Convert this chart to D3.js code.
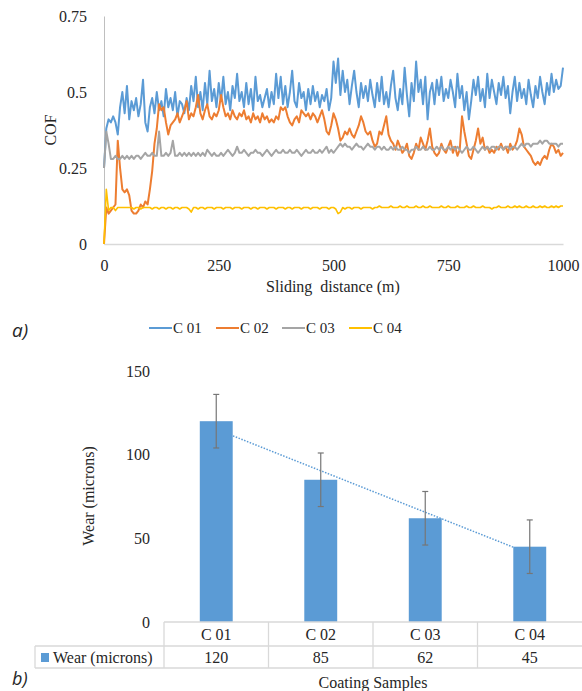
<!DOCTYPE html>
<html>
<head>
<meta charset="utf-8">
<script src="https://cdn.jsdelivr.net/npm/d3@7"></script>
<style>
body { margin: 0; background: #fff; }
text { font-family: "Liberation Serif", "Times New Roman", serif; fill: #262626; }
</style>
</head>
<body>
<div id="container"></div>
<script>

// ---- chart a) : friction coefficient vs sliding distance ----
var seriesNames = ["C 01", "C 02", "C 03", "C 04"];
var seriesColors = ["#5b9bd5", "#ed7d31", "#a5a5a5", "#ffc000"];
var distance = d3.range(0, 1001, 5);

var cofC01 = [
	0.25,0.38,0.41,0.40,0.42,0.40,0.36,0.45,0.50,0.43,
	0.52,0.41,0.47,0.44,0.48,0.42,0.46,0.54,0.40,0.37,
	0.45,0.48,0.43,0.50,0.44,0.47,0.42,0.51,0.45,0.48,
	0.44,0.50,0.42,0.47,0.46,0.43,0.48,0.44,0.52,0.47,
	0.55,0.45,0.50,0.44,0.53,0.46,0.57,0.47,0.51,0.45,
	0.53,0.47,0.55,0.46,0.50,0.44,0.52,0.48,0.56,0.47,
	0.50,0.45,0.53,0.46,0.51,0.44,0.55,0.47,0.49,0.45,
	0.48,0.51,0.45,0.50,0.46,0.56,0.48,0.55,0.46,0.52,
	0.45,0.50,0.57,0.47,0.45,0.53,0.48,0.50,0.44,0.51,
	0.46,0.52,0.47,0.50,0.45,0.49,0.47,0.51,0.44,0.48,
	0.60,0.53,0.61,0.49,0.57,0.50,0.54,0.46,0.52,0.57,
	0.50,0.45,0.53,0.48,0.52,0.47,0.54,0.49,0.45,0.53,
	0.47,0.55,0.46,0.50,0.45,0.52,0.57,0.48,0.44,0.51,
	0.46,0.58,0.49,0.42,0.53,0.47,0.60,0.50,0.54,0.46,
	0.55,0.41,0.50,0.53,0.46,0.54,0.49,0.55,0.47,0.51,
	0.48,0.54,0.50,0.45,0.56,0.48,0.52,0.44,0.50,0.41,
	0.47,0.54,0.49,0.55,0.47,0.51,0.45,0.56,0.48,0.54,
	0.50,0.46,0.53,0.49,0.55,0.48,0.52,0.43,0.50,0.55,
	0.47,0.53,0.48,0.51,0.46,0.54,0.49,0.45,0.52,0.48,
	0.55,0.50,0.46,0.53,0.49,0.56,0.50,0.54,0.51,0.52,
	0.58];

var cofC02 = [
	0.00,0.12,0.10,0.11,0.12,0.13,0.34,0.25,0.18,0.17,
	0.18,0.16,0.11,0.10,0.10,0.11,0.13,0.12,0.14,0.13,
	0.18,0.24,0.33,0.38,0.46,0.44,0.45,0.40,0.36,0.39,
	0.40,0.41,0.43,0.40,0.42,0.44,0.47,0.41,0.43,0.42,
	0.45,0.49,0.43,0.41,0.44,0.46,0.42,0.41,0.43,0.42,
	0.44,0.49,0.45,0.42,0.43,0.41,0.44,0.42,0.41,0.43,
	0.42,0.44,0.41,0.42,0.40,0.43,0.41,0.42,0.40,0.43,
	0.41,0.42,0.40,0.41,0.40,0.42,0.41,0.45,0.44,0.45,
	0.42,0.40,0.39,0.41,0.42,0.40,0.44,0.43,0.42,0.43,
	0.41,0.43,0.42,0.40,0.42,0.44,0.41,0.37,0.36,0.39,
	0.43,0.41,0.38,0.34,0.35,0.37,0.36,0.38,0.36,0.35,
	0.37,0.39,0.42,0.40,0.37,0.36,0.37,0.34,0.32,0.33,
	0.37,0.36,0.39,0.42,0.36,0.34,0.33,0.31,0.34,0.32,
	0.30,0.31,0.33,0.29,0.28,0.30,0.33,0.31,0.35,0.33,
	0.31,0.34,0.38,0.32,0.30,0.29,0.30,0.33,0.31,0.30,
	0.32,0.34,0.30,0.32,0.29,0.31,0.42,0.37,0.33,0.29,
	0.28,0.31,0.34,0.38,0.33,0.35,0.31,0.32,0.30,0.31,
	0.30,0.32,0.31,0.33,0.31,0.32,0.30,0.33,0.31,0.32,
	0.34,0.38,0.36,0.32,0.31,0.30,0.29,0.27,0.26,0.27,
	0.26,0.28,0.29,0.28,0.31,0.33,0.32,0.30,0.31,0.29,
	0.30];

var cofC03 = [
	0.25,0.37,0.33,0.28,0.28,0.29,0.28,0.28,0.29,0.28,
	0.29,0.28,0.29,0.28,0.29,0.29,0.28,0.29,0.30,0.29,
	0.29,0.30,0.29,0.29,0.37,0.29,0.29,0.30,0.29,0.30,
	0.34,0.29,0.29,0.30,0.29,0.30,0.29,0.30,0.29,0.30,
	0.29,0.30,0.29,0.30,0.29,0.31,0.30,0.29,0.30,0.29,
	0.29,0.30,0.29,0.30,0.31,0.30,0.29,0.30,0.32,0.30,
	0.30,0.31,0.30,0.29,0.30,0.30,0.31,0.30,0.30,0.29,
	0.30,0.31,0.30,0.29,0.30,0.31,0.30,0.30,0.31,0.30,
	0.30,0.31,0.30,0.30,0.31,0.30,0.29,0.30,0.31,0.30,
	0.30,0.31,0.30,0.30,0.31,0.30,0.31,0.32,0.30,0.31,
	0.30,0.31,0.32,0.33,0.32,0.33,0.32,0.32,0.31,0.32,
	0.33,0.32,0.32,0.31,0.32,0.33,0.32,0.32,0.31,0.32,
	0.32,0.31,0.32,0.31,0.31,0.32,0.31,0.32,0.31,0.31,
	0.32,0.31,0.31,0.30,0.31,0.31,0.32,0.31,0.31,0.32,
	0.31,0.31,0.32,0.31,0.31,0.32,0.31,0.32,0.31,0.31,
	0.32,0.31,0.32,0.31,0.32,0.31,0.30,0.31,0.32,0.31,
	0.31,0.32,0.31,0.30,0.31,0.32,0.31,0.32,0.31,0.32,
	0.32,0.31,0.32,0.32,0.31,0.32,0.32,0.31,0.32,0.32,
	0.31,0.32,0.33,0.32,0.33,0.33,0.32,0.33,0.33,0.33,
	0.34,0.33,0.34,0.34,0.33,0.33,0.33,0.33,0.32,0.33,
	0.33];

var cofC04 = [
	0.00,0.18,0.11,0.12,0.12,0.11,0.12,0.12,0.12,0.12,
	0.12,0.12,0.12,0.115,0.12,0.12,0.115,0.12,0.12,0.12,
	0.12,0.115,0.12,0.12,0.115,0.12,0.12,0.115,0.12,0.12,
	0.115,0.12,0.12,0.115,0.12,0.12,0.12,0.115,0.105,0.12,
	0.12,0.115,0.12,0.12,0.115,0.12,0.12,0.12,0.115,0.12,
	0.12,0.12,0.115,0.12,0.12,0.12,0.115,0.12,0.12,0.12,
	0.115,0.12,0.12,0.12,0.115,0.12,0.12,0.115,0.12,0.12,
	0.12,0.115,0.12,0.12,0.12,0.115,0.12,0.12,0.12,0.115,
	0.12,0.12,0.115,0.12,0.12,0.12,0.115,0.12,0.12,0.12,
	0.115,0.12,0.12,0.12,0.115,0.12,0.12,0.12,0.115,0.12,
	0.12,0.115,0.10,0.105,0.12,0.115,0.12,0.12,0.115,0.12,
	0.12,0.12,0.115,0.12,0.12,0.12,0.12,0.115,0.12,0.12,
	0.125,0.12,0.12,0.12,0.12,0.125,0.12,0.12,0.12,0.125,
	0.12,0.12,0.125,0.12,0.12,0.12,0.125,0.12,0.12,0.125,
	0.12,0.12,0.125,0.12,0.12,0.12,0.12,0.125,0.12,0.12,
	0.125,0.12,0.12,0.12,0.125,0.12,0.12,0.12,0.125,0.12,
	0.12,0.125,0.12,0.12,0.12,0.125,0.12,0.12,0.12,0.115,
	0.12,0.12,0.125,0.12,0.12,0.12,0.125,0.12,0.12,0.125,
	0.12,0.125,0.12,0.12,0.125,0.12,0.12,0.125,0.12,0.12,
	0.125,0.12,0.125,0.12,0.12,0.125,0.12,0.125,0.12,0.125,
	0.125];

var cofTicks = [0, 0.25, 0.5, 0.75];
var cofTickLabels = ["0", "0.25", "0.5", "0.75"];
var distanceTicks = [0, 250, 500, 750, 1000];

// ---- chart b) : wear per coating ----
var samples = ["C 01", "C 02", "C 03", "C 04"];
var wear = [120, 85, 62, 45];
var wearError = [16, 16, 16, 16];
var wearTicks = [0, 50, 100, 150];


function styleAxisText(g) {
	g.attr("font-family", "Liberation Serif, Times New Roman, serif")
		.attr("font-size", 16);
	g.selectAll("text").attr("fill", "#262626");
};


function drawFriction(svg) {
	var x = d3.scaleLinear().domain([0, 1000]).range([104, 563]);
	var y = d3.scaleLinear().domain([0, 0.75]).range([244, 16]);

	var yAxis = svg.append("g")
		.attr("transform", "translate(104,0)")
		.call(d3.axisLeft(y).tickValues(cofTicks).tickSize(0).tickPadding(17)
			.tickFormat(function(d, i) { return cofTickLabels[i]; }));
	yAxis.select(".domain").attr("stroke", "#bfbfbf").attr("stroke-width", 1);
	styleAxisText(yAxis);

	var xAxis = svg.append("g")
		.attr("transform", "translate(0,244)")
		.call(d3.axisBottom(x).tickValues(distanceTicks).tickSize(0).tickPadding(16)
			.tickFormat(d3.format("d")));
	xAxis.select(".domain").attr("stroke", "#d9d9d9").attr("stroke-width", 1.5);
	styleAxisText(xAxis);

	var all = [cofC01, cofC02, cofC03, cofC04];
	var line = d3.line()
		.x(function(d, i) { return x(distance[i]); })
		.y(function(d) { return y(d); });

	for (var s = 0; s < all.length; s++) {
		svg.append("path")
			.datum(all[s])
			.attr("d", line)
			.attr("fill", "none")
			.attr("stroke", seriesColors[s])
			.attr("stroke-width", s == 3 ? 1.6 : 2)
			.attr("stroke-linejoin", "round");
	};

	svg.append("text")
		.attr("transform", "translate(50,130) rotate(-90)")
		.attr("text-anchor", "middle")
		.attr("dy", "0.35em")
		.style("font-size", "16px")
		.text("COF");

	svg.append("text")
		.attr("x", 333)
		.attr("y", 292)
		.attr("text-anchor", "middle")
		.style("font-size", "16px")
		.style("white-space", "pre")
		.text("Sliding  distance (m)");

	// legend
	var lx = [149, 216, 282, 349];
	var legend = svg.selectAll(".leg")
		.data(seriesNames)
		.enter()
		.append("g")
		.attr("transform", function(d, i) { return "translate(" + lx[i] + ",328)"; });
	legend.append("line")
		.attr("x1", 0).attr("x2", 23)
		.attr("stroke", function(d, i) { return seriesColors[i]; })
		.attr("stroke-width", 2);
	legend.append("text")
		.attr("x", 24)
		.attr("dy", "0.35em")
		.style("font-size", "15px")
		.text(function(d) { return d; });

	svg.append("text")
		.attr("x", 12).attr("y", 337)
		.style("font-family", "Open Sans")
		.style("font-style", "italic")
		.style("font-size", "19px")
		.text("a)");
};


function drawWear(svg) {
	var x = d3.scaleBand().domain(samples).range([164, 582]);
	var bx = d3.scaleBand().domain(samples).range([164, 582]).paddingInner(0.685).paddingOuter(0.3425);
	var y = d3.scaleLinear().domain([0, 150]).range([622, 371]);

	var yAxis = svg.append("g")
		.attr("transform", "translate(164,0)")
		.call(d3.axisLeft(y).tickValues(wearTicks).tickSize(0).tickPadding(14));
	yAxis.select(".domain").remove();
	styleAxisText(yAxis);

	// linear trendline (least squares over the four samples), behind the bars
	var n = wear.length;
	var mx = (n + 1) / 2, my = d3.mean(wear);
	var sxy = 0, sxx = 0;
	for (var i = 0; i < n; i++) {
		sxy += (i + 1 - mx) * (wear[i] - my);
		sxx += (i + 1 - mx) * (i + 1 - mx);
	};
	var slope = sxy / sxx;
	svg.append("line")
		.attr("x1", x(samples[0]) + x.bandwidth() / 2)
		.attr("x2", x(samples[n - 1]) + x.bandwidth() / 2)
		.attr("y1", y(my + slope * (1 - mx)))
		.attr("y2", y(my + slope * (n - mx)))
		.attr("stroke", "#5b9bd5")
		.attr("stroke-width", 1.5)
		.attr("stroke-dasharray", "1.5,1.5");

	svg.selectAll(".bar")
		.data(wear)
		.enter()
		.append("rect")
		.attr("x", function(d, i) { return bx(samples[i]); })
		.attr("width", bx.bandwidth())
		.attr("y", function(d) { return y(d); })
		.attr("height", function(d) { return y(0) - y(d); })
		.attr("fill", "#5b9bd5");

	// error bars
	var eg = svg.selectAll(".err")
		.data(wear)
		.enter()
		.append("g")
		.attr("stroke", "#767676")
		.attr("stroke-width", 1.2);
	eg.append("line")
		.attr("x1", function(d, i) { return x(samples[i]) + x.bandwidth() / 2; })
		.attr("x2", function(d, i) { return x(samples[i]) + x.bandwidth() / 2; })
		.attr("y1", function(d, i) { return y(d + wearError[i]); })
		.attr("y2", function(d, i) { return y(d - wearError[i]); });
	[1, -1].forEach(function(sg) {
		eg.append("line")
			.attr("x1", function(d, i) { return x(samples[i]) + x.bandwidth() / 2 - 3; })
			.attr("x2", function(d, i) { return x(samples[i]) + x.bandwidth() / 2 + 3; })
			.attr("y1", function(d, i) { return y(d + sg * wearError[i]); })
			.attr("y2", function(d, i) { return y(d + sg * wearError[i]); });
	});

	// data table under the axis
	var grid = "#d9d9d9";
	var t = svg.append("g").attr("stroke", grid).attr("stroke-width", 1.3);
	t.append("line").attr("x1", 164).attr("x2", 582).attr("y1", 622).attr("y2", 622);
	t.append("line").attr("x1", 35).attr("x2", 582).attr("y1", 646).attr("y2", 646);
	t.append("line").attr("x1", 35).attr("x2", 582).attr("y1", 668).attr("y2", 668);
	t.append("line").attr("x1", 35).attr("x2", 35).attr("y1", 646).attr("y2", 668);
	samples.forEach(function(s) {
		t.append("line").attr("x1", x(s)).attr("x2", x(s)).attr("y1", 622).attr("y2", 668);
	});

	svg.selectAll(".cat")
		.data(samples)
		.enter()
		.append("text")
		.attr("x", function(d) { return x(d) + x.bandwidth() / 2; })
		.attr("y", 634)
		.attr("dy", "0.35em")
		.attr("text-anchor", "middle")
		.style("font-size", "16px")
		.text(function(d) { return d; });

	svg.selectAll(".val")
		.data(wear)
		.enter()
		.append("text")
		.attr("x", function(d, i) { return x(samples[i]) + x.bandwidth() / 2; })
		.attr("y", 657)
		.attr("dy", "0.35em")
		.attr("text-anchor", "middle")
		.style("font-size", "16px")
		.text(function(d) { return d; });

	svg.append("rect")
		.attr("x", 41).attr("y", 653)
		.attr("width", 8).attr("height", 9)
		.attr("fill", "#5b9bd5");
	svg.append("text")
		.attr("x", 53).attr("y", 657)
		.attr("dy", "0.35em")
		.style("font-size", "16px")
		.text("Wear (microns)");

	svg.append("text")
		.attr("transform", "translate(88,496) rotate(-90)")
		.attr("text-anchor", "middle")
		.attr("dy", "0.35em")
		.style("font-size", "16px")
		.text("Wear (microns)");

	svg.append("text")
		.attr("x", 373).attr("y", 682)
		.attr("dy", "0.35em")
		.attr("text-anchor", "middle")
		.style("font-size", "16px")
		.text("Coating Samples");

	svg.append("text")
		.attr("x", 12).attr("y", 685)
		.style("font-family", "Open Sans")
		.style("font-style", "italic")
		.style("font-size", "18px")
		.text("b)");
};


function main() {
	var svg = d3.select("#container")
		.append("svg")
		.attr("width", 582)
		.attr("height", 691);
	drawFriction(svg);
	drawWear(svg);
};


main()
</script>
</body>
</html>
